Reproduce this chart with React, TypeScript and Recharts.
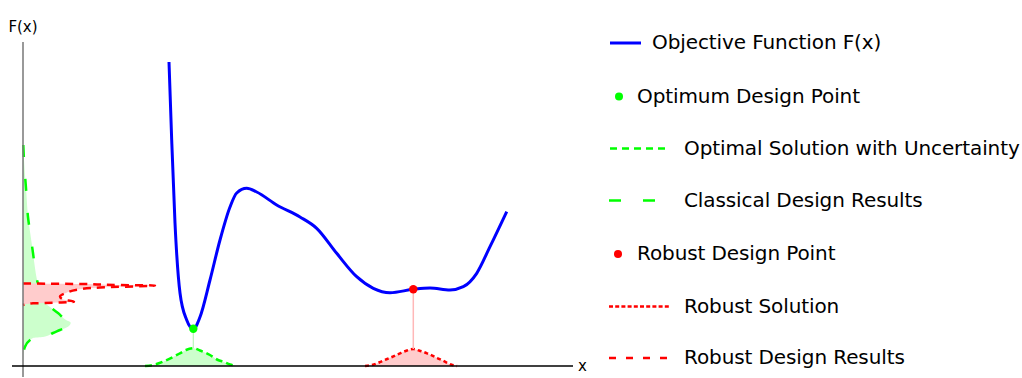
import { Area, ComposedChart, Line, ReferenceLine, Scatter, XAxis, YAxis } from 'recharts';

type Pt = { x: number; y: number };

// blue objective function F(x)
const objectiveCurve: Pt[] = [
  { x: 146, y: 304 }, { x: 148.7, y: 226 }, { x: 152, y: 143 }, { x: 157, y: 73 },
  { x: 163.7, y: 46 }, { x: 170.3, y: 37 }, { x: 177, y: 49 }, { x: 187, y: 86 },
  { x: 197, y: 126 }, { x: 207, y: 159 }, { x: 213.7, y: 173 }, { x: 223.7, y: 177.7 },
  { x: 233.7, y: 174 }, { x: 253.7, y: 161 }, { x: 277, y: 149 }, { x: 293.7, y: 137.7 },
  { x: 313.7, y: 112.7 }, { x: 333.7, y: 89.3 }, { x: 350.3, y: 77.7 }, { x: 367, y: 73.3 },
  { x: 390.3, y: 76.7 }, { x: 407, y: 78 }, { x: 427, y: 76 }, { x: 440.3, y: 79.3 },
  { x: 453.7, y: 92.7 }, { x: 467, y: 119.3 }, { x: 483.7, y: 154.3 }
];

const optimumPoint: Pt[] = [{ x: 170.3, y: 37.3 }];
const robustPoint: Pt[] = [{ x: 390.3, y: 76.7 }];
const optimumLink: Pt[] = [{ x: 170.3, y: 37.3 }, { x: 170.3, y: 17.7 }];
const robustLink: Pt[] = [{ x: 390.3, y: 76.7 }, { x: 390.3, y: 17 }];

// density under the optimum (green, short dashes)
const optimalUncertainty: Pt[] = [
  { x: 122, y: 0 }, { x: 132, y: 1.5 }, { x: 140, y: 4.3 }, { x: 150, y: 9 },
  { x: 157, y: 12.7 }, { x: 163, y: 16 }, { x: 170.3, y: 17.7 }, { x: 177, y: 15.5 },
  { x: 187, y: 11 }, { x: 195, y: 6 }, { x: 200.3, y: 4.3 }, { x: 207, y: 1.5 }, { x: 212, y: 0.5 }
];

// density under the robust point (red, dotted)
const robustSolution: Pt[] = [
  { x: 342, y: 0 }, { x: 351, y: 1.5 }, { x: 360, y: 5.3 }, { x: 369, y: 9 },
  { x: 377, y: 12.7 }, { x: 384, y: 15.5 }, { x: 390.3, y: 17 }, { x: 396, y: 15.5 },
  { x: 404, y: 12.7 }, { x: 412, y: 9 }, { x: 420, y: 5.3 }, { x: 428, y: 1.5 }, { x: 434, y: 0 }
];

// output densities along the F(x) axis
const classicalResults: Pt[] = [
  { x: 0.3, y: 221 }, { x: 1, y: 206 }, { x: 2, y: 191 }, { x: 3.5, y: 171 },
  { x: 5, y: 149 }, { x: 7.5, y: 131 }, { x: 10, y: 113 }, { x: 12, y: 98 },
  { x: 14, y: 86 }, { x: 17, y: 76 }, { x: 22, y: 63 }, { x: 27, y: 59 },
  { x: 35, y: 53 }, { x: 43, y: 46 }, { x: 47.7, y: 43.3 }, { x: 45, y: 39.3 },
  { x: 37, y: 36 }, { x: 30, y: 33 }, { x: 20, y: 29 }, { x: 10, y: 28 },
  { x: 2, y: 19.3 }, { x: 0.3, y: 11 }, { x: 0, y: 0 }
];

const robustResults: Pt[] = [
  { x: 0, y: 82.5 }, { x: 27, y: 82.3 }, { x: 60, y: 82 }, { x: 94, y: 81 },
  { x: 132, y: 80.5 }, { x: 77, y: 78.5 }, { x: 55, y: 76.5 }, { x: 43, y: 73 },
  { x: 37, y: 69.5 }, { x: 40, y: 66.5 }, { x: 51, y: 64.3 }, { x: 37, y: 63.5 },
  { x: 22, y: 63 }, { x: 10, y: 62.7 }, { x: 0, y: 61 }
];

const legendLabels = [
  'Objective Function F(x)',
  'Optimum Design Point',
  'Optimal Solution with Uncertainty',
  'Classical Design Results',
  'Robust Design Point',
  'Robust Solution',
  'Robust Design Results'
];

const W = 1022;
const H = 378;
const margin = { top: 42, right: 449, bottom: 1, left: 12 };
const xDomain: [number, number] = [-11, 550];
const yDomain: [number, number] = [-11, 324];
const font = 'DejaVu Sans, Verdana, sans-serif';

const GREEN = '#00ff00';
const RED = '#ff0000';
const BLUE = '#0000ff';

function Dot(color: string) {
  return (p: any) => <circle cx={p.cx} cy={p.cy} r={4.2} fill={color} />;
}

function LegendBox() {
  const rows = [43, 96.5, 148.5, 200.5, 254, 306.5, 358];
  const textX = [652, 637, 684, 684, 637, 684, 684];
  const marker = (i: number, y: number) => {
    switch (i) {
      case 0:
        return <line x1={610} x2={641} y1={y} y2={y} stroke={BLUE} strokeWidth={3} />;
      case 1:
        return <circle cx={619} cy={y} r={4} fill={GREEN} />;
      case 2:
        return <line x1={610} x2={668} y1={y} y2={y} stroke={GREEN} strokeWidth={2.5} strokeDasharray="7 5" />;
      case 3:
        return <line x1={609} x2={655} y1={y} y2={y} stroke={GREEN} strokeWidth={2.5} strokeDasharray="12 22" />;
      case 4:
        return <circle cx={618} cy={y} r={4} fill={RED} />;
      case 5:
        return <line x1={609} x2={671} y1={y} y2={y} stroke={RED} strokeWidth={2.5} strokeDasharray="4 2.2" />;
      default:
        return <line x1={609} x2={667} y1={y} y2={y} stroke={RED} strokeWidth={2.5} strokeDasharray="7 10" />;
    }
  };
  return (
    <svg width={W} height={H} style={{ position: 'absolute', left: 0, top: 0, pointerEvents: 'none' }}>
      {legendLabels.map((label, i) => (
        <g key={label}>
          {marker(i, rows[i])}
          <text x={textX[i]} y={rows[i] + 6.3} fontSize={20} fontFamily={font} fill="#000" letterSpacing={-0.1}>
            {label}
          </text>
        </g>
      ))}
    </svg>
  );
}

export default function App() {
  return (
    <div style={{ position: 'absolute', left: 0, top: 0, width: W, height: H, background: '#fff', fontFamily: font }}>
      <div style={{ position: 'absolute', left: 0, top: 0 }}>
        <ComposedChart width={W} height={H} margin={margin}>
          <XAxis type="number" dataKey="x" domain={xDomain} allowDataOverflow hide />
          <YAxis type="number" dataKey="y" domain={yDomain} allowDataOverflow hide />
          <Area
            data={optimalUncertainty}
            dataKey="y"
            type="monotone"
            baseValue={0}
            stroke={GREEN}
            strokeWidth={2.5}
            strokeDasharray="7 4"
            fill="#ccffcc"
            fillOpacity={1}
            isAnimationActive={false}
          />
          <Area
            data={robustSolution}
            dataKey="y"
            type="monotone"
            baseValue={0}
            stroke={RED}
            strokeWidth={2.5}
            strokeDasharray="4 3"
            fill="#ffcccc"
            fillOpacity={1}
            isAnimationActive={false}
          />
          <Line data={optimumLink} dataKey="y" stroke="#b8f5b8" strokeWidth={1.2} dot={false} isAnimationActive={false} />
          <Line data={robustLink} dataKey="y" stroke="#ffb8b8" strokeWidth={1.5} dot={false} isAnimationActive={false} />
          <Line
            data={objectiveCurve}
            dataKey="y"
            type="monotone"
            stroke={BLUE}
            strokeWidth={3}
            dot={false}
            isAnimationActive={false}
          />
          <Scatter data={optimumPoint} dataKey="y" shape={Dot(GREEN)} isAnimationActive={false} />
          <Scatter data={robustPoint} dataKey="y" shape={Dot(RED)} isAnimationActive={false} />
        </ComposedChart>
      </div>
      <div style={{ position: 'absolute', left: 0, top: 0 }}>
        <ComposedChart width={W} height={H} margin={margin} layout="vertical">
          <XAxis type="number" domain={xDomain} allowDataOverflow hide />
          <YAxis type="number" dataKey="y" domain={yDomain} allowDataOverflow reversed hide />
          <Area
            data={classicalResults}
            dataKey="x"
            type="monotoneY"
            baseValue={0}
            stroke={GREEN}
            strokeWidth={2.5}
            strokeDasharray="12 22"
            fill="#ccffcc"
            fillOpacity={1}
            isAnimationActive={false}
          />
          <Area
            data={robustResults}
            dataKey="x"
            type="monotoneY"
            baseValue={0}
            stroke={RED}
            strokeWidth={2.5}
            strokeDasharray="8 6"
            fill="#ffcccc"
            fillOpacity={1}
            isAnimationActive={false}
          />
          <ReferenceLine
            x={0}
            stroke="#777"
            strokeWidth={1.5}
            label={{ value: 'F(x)', position: 'top', offset: 10, fill: '#000', fontSize: 15, fontFamily: font }}
          />
          <ReferenceLine
            y={0}
            stroke="#000"
            strokeWidth={1.5}
            label={{ value: 'x', position: 'right', offset: 5, fill: '#000', fontSize: 15, fontFamily: font }}
          />
        </ComposedChart>
      </div>
      <LegendBox />
    </div>
  );
}
